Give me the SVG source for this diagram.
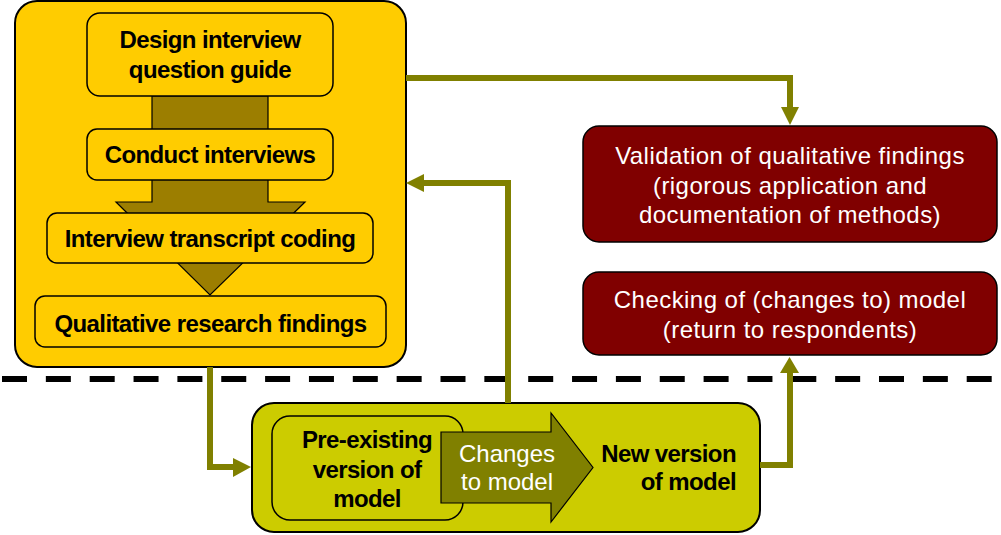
<svg xmlns="http://www.w3.org/2000/svg" width="1001" height="535" viewBox="0 0 1001 535">
<defs>
<style>
.b{font-family:"Liberation Sans",Arial,sans-serif;font-weight:bold;font-size:24px;letter-spacing:-0.6px;fill:#000;text-anchor:middle}
.w{font-family:"Liberation Sans",Arial,sans-serif;font-size:24px;letter-spacing:0.45px;fill:#fff;text-anchor:middle}
.yb{fill:#FFCC00;stroke:#000;stroke-width:1.5}
.rb{fill:#800000;stroke:#000;stroke-width:1.5}
.con{fill:none;stroke:#808000;stroke-width:6}
.ah{fill:#808000}
</style>
</defs>
<rect width="1001" height="535" fill="#fff"/>
<line x1="2" y1="379" x2="1001" y2="379" stroke="#000" stroke-width="6" stroke-dasharray="25 18.85"/>
<g id="qualitative-group">
<rect x="15" y="1" width="391" height="366" rx="22" fill="#FFCC00" stroke="#000" stroke-width="2"/>
<polygon points="152,96 268,96 268,202 305,202 210,295 116,202 152,202" fill="#9C7E00" stroke="#000" stroke-width="1.2"/>
</g>
<g id="design">
<rect class="yb" x="87" y="13" width="246" height="83" rx="13"/>
<text class="b" x="210" y="48">Design interview</text>
<text class="b" x="210" y="78">question guide</text>
</g>
<g id="conduct">
<rect class="yb" x="87" y="129" width="246" height="51" rx="10"/>
<text class="b" x="210" y="163">Conduct interviews</text>
</g>
<g id="coding">
<rect class="yb" x="47" y="213" width="326" height="50" rx="10"/>
<text class="b" x="210" y="247">Interview transcript coding</text>
</g>
<g id="findings">
<rect class="yb" x="35" y="296" width="351" height="51" rx="10"/>
<text class="b" x="210.5" y="332">Qualitative research findings</text>
</g>
<g id="validation">
<rect class="rb" x="583" y="126" width="414" height="116" rx="16"/>
<text class="w" x="790" y="164">Validation of qualitative findings</text>
<text class="w" x="790" y="194">(rigorous application and</text>
<text class="w" x="790" y="223">documentation of methods)</text>
</g>
<g id="checking">
<rect class="rb" x="583" y="272" width="414" height="83" rx="16"/>
<text class="w" x="790" y="308">Checking of (changes to) model</text>
<text class="w" x="790" y="338">(return to respondents)</text>
</g>
<g id="model">
<rect x="252" y="403" width="508" height="129" rx="22" fill="#CCCC00" stroke="#000" stroke-width="2"/>
<rect x="272" y="416" width="191" height="104" rx="18" fill="#CCCC00" stroke="#000" stroke-width="1.5"/>
<text class="b" x="367" y="448">Pre-existing</text>
<text class="b" x="367" y="478">version of</text>
<text class="b" x="367" y="507">model</text>
<polygon points="441,432 551,432 551,413 593,467.5 551,522 551,503 441,503" fill="#808000" stroke="#000" stroke-width="1.2"/>
<text class="w" x="507" y="462" style="letter-spacing:0">Changes</text>
<text class="w" x="507" y="490" style="letter-spacing:0">to model</text>
<text class="b" x="736" y="462" style="text-anchor:end">New version</text>
<text class="b" x="736" y="490" style="text-anchor:end">of model</text>
</g>
<g id="connectors">
<path class="con" d="M406,78 H790 V108"/>
<polygon class="ah" points="781,107 799,107 790,125"/>
<path class="con" d="M508,403 V183 H423"/>
<polygon class="ah" points="424,174 424,192 406,183"/>
<path class="con" d="M210,367 V467 H234"/>
<polygon class="ah" points="233,458 233,477 251,467"/>
<path class="con" d="M760,465 H790 V372"/>
<polygon class="ah" points="780,373 799,373 789.5,357"/>
</g>
</svg>
